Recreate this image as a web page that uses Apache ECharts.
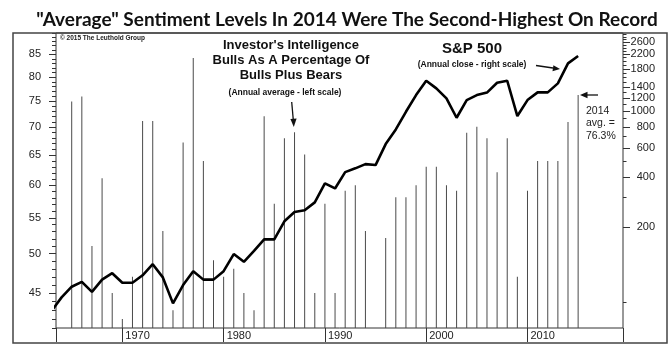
<!DOCTYPE html>
<html>
<head>
<meta charset="utf-8">
<script src="https://cdn.jsdelivr.net/npm/echarts@6/dist/echarts.min.js"></script>
<style>
  html, body { margin: 0; padding: 0; background: #fff; }
  #chart { width: 672px; height: 351px; }
</style>
</head>
<body>
<div id="chart"></div>
<script>
// annual data, one entry per year (plotted at year end)
const years = [1962, 1963, 1964, 1965, 1966, 1967, 1968, 1969, 1970, 1971, 1972, 1973, 1974, 1975, 1976, 1977, 1978, 1979,
  1980, 1981, 1982, 1983, 1984, 1985, 1986, 1987, 1988, 1989, 1990, 1991, 1992, 1993, 1994, 1995, 1996, 1997, 1998, 1999,
  2000, 2001, 2002, 2003, 2004, 2005, 2006, 2007, 2008, 2009, 2010, 2011, 2012, 2013, 2014]
// Investor's Intelligence bulls / (bulls + bears), annual average % (left scale)
const sentiment = ['-', '-', 75.0, 76.0, 51.0, 61.1, 45.0, 42.0, 47.0, 71.2, 71.2, 53.1, 43.0, 67.2, 84.2, 64.0, 49.1, 47.0,
  48.0, 45.0, 43.0, 72.1, 57.1, 68.0, 69.1, 65.1, 45.0, 57.1, 45.0, 59.1, 60.0, 53.1, 40.0, 52.1, 58.1, 58.1, 60.0, 63.0,
  63.0, 60.0, 59.1, 69.0, 70.1, 68.0, 62.1, 68.0, 47.0, 59.1, 64.0, 64.0, 64.0, 71.0, 76.3]
// S&P 500 annual close (right scale)
const sp500 = [62, 75, 87, 93, 81, 96, 105, 92, 92, 102, 119, 99, 69, 89, 108, 96, 96, 108,
  137, 123, 143, 168, 168, 216, 246, 252, 281, 366, 341, 428, 451, 478, 472, 632, 775, 990, 1249, 1524,
  1371, 1193, 911, 1165, 1249, 1293, 1482, 1524, 933, 1165, 1297, 1297, 1470, 1941, 2149]

const decades = [1970, 1980, 1990, 2000, 2010]
const leftLabels = [45, 50, 55, 60, 65, 70, 75, 80, 85]
const leftMinor = []
for (let v = 41; v <= 90; v++) leftMinor.push(v)
const rightLabels = [200, 400, 600, 800, 1000, 1200, 1400, 1800, 2200, 2600]
const rightMinor = [70, 300, 500, 700, 900, 1100, 1300, 1500, 1600, 1700, 1900, 2000, 2100, 2300, 2400, 2500, 2700, 2800, 2900]

const X_MIN = 1963.45
const X_MAX = 2019.43
const LEFT_MIN = 41, LEFT_MAX = 90
const RIGHT_MIN = 49, RIGHT_MAX = 2960

const barData = years.map((y, i) => [y + 1, sentiment[i]])
const lineData = years.map((y, i) => [y + 1, sp500[i]])

const axisColor = '#333'
const font = '"Liberation Sans", Arial, sans-serif'
const plain = (v) => String(Math.round(v))

function logAxis(opts) {
  return Object.assign({
    type: 'log',
    axisLine: { show: false },
    splitLine: { show: false },
    axisTick: { show: true, inside: false, lineStyle: { color: axisColor, width: 1 } },
    axisLabel: { show: false },
  }, opts)
}

let myChart = echarts.init(document.getElementById('chart'), null, { renderer: 'canvas' })

myChart.setOption({
  animation: false,
  backgroundColor: '#fff',
  grid: {
    left: 56, right: 49, top: 33, bottom: 23,
    show: true, borderColor: axisColor, borderWidth: 1, backgroundColor: 'transparent',
  },
  xAxis: {
    type: 'value',
    min: X_MIN,
    max: X_MAX,
    axisLine: { show: false },
    splitLine: { show: false },
    axisTick: {
      customValues: [X_MIN].concat(decades, [X_MAX]),
      length: 14,
      lineStyle: { color: axisColor, width: 1 },
    },
    axisLabel: {
      customValues: decades,
      formatter: plain,
      align: 'left',
      margin: 2,
      padding: [0, 0, 0, 3],
      color: '#222',
      fontSize: 11,
      fontFamily: font,
    },
  },
  yAxis: [
    logAxis({
      position: 'left', min: LEFT_MIN, max: LEFT_MAX,
      axisTick: { customValues: leftLabels, length: 7, lineStyle: { color: axisColor } },
      axisLabel: { show: true, customValues: leftLabels, formatter: plain, margin: 15, color: '#222', fontSize: 11, fontFamily: font },
    }),
    logAxis({
      position: 'left', min: LEFT_MIN, max: LEFT_MAX,
      axisTick: { customValues: leftMinor, length: 4, lineStyle: { color: axisColor } },
    }),
    logAxis({
      position: 'right', min: RIGHT_MIN, max: RIGHT_MAX,
      axisTick: { customValues: rightLabels, length: 7, lineStyle: { color: axisColor } },
      axisLabel: { show: true, customValues: rightLabels, formatter: plain, margin: 32, align: 'right', color: '#222', fontSize: 11, fontFamily: font },
    }),
    logAxis({
      position: 'right', min: RIGHT_MIN, max: RIGHT_MAX,
      axisTick: { customValues: rightMinor, length: 3.5, lineStyle: { color: axisColor } },
    }),
  ],
  series: [
    {
      name: 'Bulls %',
      type: 'bar',
      yAxisIndex: 0,
      data: barData,
      barWidth: 1,
      clip: true,
      itemStyle: { color: '#4a4a4a' },
    },
    {
      name: 'S&P 500',
      type: 'line',
      yAxisIndex: 2,
      data: lineData,
      symbol: 'none',
      clip: true,
      lineStyle: { color: '#000', width: 2.6 },
      z: 3,
    },
  ],
  graphic: [
    { type: 'rect', shape: { x: 13, y: 33, width: 654, height: 310 }, style: { fill: 'none', stroke: '#444', lineWidth: 1.5 }, z: 10 },
    { type: 'text', x: 347, y: 20, style: { text: '"Average" Sentiment Levels In 2014 Were The Second-Highest On Record', font: 'bold 19px Lato, sans-serif', fill: '#111', textAlign: 'center', textVerticalAlign: 'middle' } },
    { type: 'text', x: 60, y: 38, style: { text: '© 2015 The Leuthold Group', font: 'bold 6.5px ' + font, fill: '#222', textAlign: 'left', textVerticalAlign: 'middle' } },
    { type: 'text', x: 291, y: 45, style: { text: "Investor's Intelligence", font: 'bold 13px ' + font, fill: '#111', textAlign: 'center', textVerticalAlign: 'middle' } },
    { type: 'text', x: 291, y: 60, style: { text: 'Bulls As A Percentage Of', font: 'bold 13px ' + font, fill: '#111', textAlign: 'center', textVerticalAlign: 'middle' } },
    { type: 'text', x: 291, y: 75.5, style: { text: 'Bulls Plus Bears', font: 'bold 13px ' + font, fill: '#111', textAlign: 'center', textVerticalAlign: 'middle' } },
    { type: 'text', x: 285, y: 93, style: { text: '(Annual average - left scale)', font: 'bold 8.5px ' + font, fill: '#111', textAlign: 'center', textVerticalAlign: 'middle' } },
    { type: 'text', x: 472, y: 49, style: { text: 'S&P 500', font: 'bold 15px ' + font, fill: '#111', textAlign: 'center', textVerticalAlign: 'middle' } },
    { type: 'text', x: 472, y: 65, style: { text: '(Annual close - right scale)', font: 'bold 8.5px ' + font, fill: '#111', textAlign: 'center', textVerticalAlign: 'middle' } },
    { type: 'text', x: 586, y: 111, style: { text: '2014', font: '10.5px ' + font, fill: '#222', textAlign: 'left', textVerticalAlign: 'middle' } },
    { type: 'text', x: 586, y: 123.5, style: { text: 'avg. =', font: '10.5px ' + font, fill: '#222', textAlign: 'left', textVerticalAlign: 'middle' } },
    { type: 'text', x: 586, y: 136, style: { text: '76.3%', font: '10.5px ' + font, fill: '#222', textAlign: 'left', textVerticalAlign: 'middle' } },
    // arrows
    { type: 'line', shape: { x1: 291.7, y1: 102, x2: 293.3, y2: 120 }, style: { stroke: '#111', lineWidth: 1.3 } },
    { type: 'polygon', shape: { points: [[293.8, 127], [290.4, 119], [296.6, 118.6]] }, style: { fill: '#111' } },
    { type: 'line', shape: { x1: 536, y1: 65.5, x2: 553, y2: 68 }, style: { stroke: '#111', lineWidth: 1.3 } },
    { type: 'polygon', shape: { points: [[560, 69], [552.5, 71.3], [553.4, 65.2]] }, style: { fill: '#111' } },
    { type: 'line', shape: { x1: 598, y1: 95, x2: 586, y2: 95 }, style: { stroke: '#111', lineWidth: 1.3 } },
    { type: 'polygon', shape: { points: [[580, 95], [587.5, 91.8], [587.5, 98.2]] }, style: { fill: '#111' } },
  ],
})

window.addEventListener('resize', () => {
  myChart.resize()
})
</script>
</body>
</html>
